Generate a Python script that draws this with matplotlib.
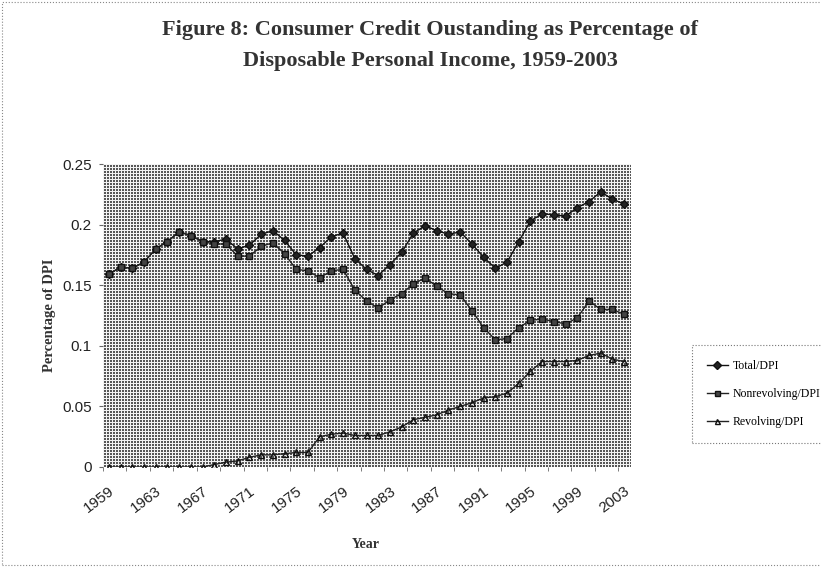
"""Consumer credit outstanding as a share of disposable personal income, 1959-2003."""
import matplotlib
matplotlib.use("Agg")
import matplotlib.pyplot as plt
import numpy as np
from matplotlib.patches import Rectangle
from matplotlib.ticker import FixedLocator, FuncFormatter

SERIF = "Liberation Serif"
SANS = "Liberation Sans"

years = list(range(1959, 2004))

total_dpi = [
    0.159, 0.165, 0.164, 0.169, 0.180, 0.186, 0.194, 0.191, 0.186, 0.186,
    0.188, 0.180, 0.183, 0.192, 0.195, 0.187, 0.175, 0.174, 0.181, 0.190,
    0.193, 0.172, 0.163, 0.158, 0.167, 0.177, 0.193, 0.199, 0.195, 0.192,
    0.194, 0.184, 0.173, 0.164, 0.169, 0.186, 0.203, 0.209, 0.208, 0.207,
    0.214, 0.219, 0.227, 0.221, 0.217,
]
nonrevolving_dpi = [
    0.159, 0.165, 0.164, 0.169, 0.180, 0.186, 0.194, 0.191, 0.186, 0.184,
    0.184, 0.174, 0.174, 0.182, 0.185, 0.176, 0.163, 0.162, 0.156, 0.162,
    0.163, 0.146, 0.137, 0.131, 0.138, 0.143, 0.151, 0.156, 0.149, 0.143,
    0.142, 0.129, 0.115, 0.105, 0.106, 0.115, 0.121, 0.122, 0.120, 0.118,
    0.123, 0.137, 0.130, 0.130, 0.126,
]
revolving_dpi = [
    0.000, 0.000, 0.000, 0.000, 0.000, 0.000, 0.000, 0.000, 0.000, 0.002,
    0.004, 0.005, 0.008, 0.010, 0.010, 0.011, 0.012, 0.012, 0.025, 0.027,
    0.028, 0.026, 0.026, 0.026, 0.029, 0.033, 0.039, 0.041, 0.043, 0.047,
    0.050, 0.053, 0.057, 0.058, 0.061, 0.069, 0.079, 0.087, 0.087, 0.087,
    0.088, 0.092, 0.094, 0.089, 0.087,
]
y_ticks = [0, 0.05, 0.1, 0.15, 0.2, 0.25]

W_PX, H_PX = 821, 569
fig = plt.figure(figsize=(W_PX / 100, H_PX / 100), dpi=100)
left, right, top, bottom = 103, 630, 164, 467
ax = fig.add_axes([left / W_PX, 1 - bottom / H_PX, (right - left) / W_PX, (bottom - top) / H_PX])

# Excel-style pattern fill for the plot area
h, w = bottom - top, right - left
rr, cc = np.mgrid[0:h, 0:w]
texture = np.where((rr % 3 == 0) | (cc % 3 == 0), 0.95, 0.34)
ax.imshow(texture, cmap="gray", vmin=0, vmax=1, extent=(0, 1, 0, 1),
          transform=ax.transAxes, aspect="auto", interpolation="nearest", zorder=0)

x = np.arange(len(years))
l1, = ax.plot(x, total_dpi, color="#111111", lw=1.0, marker="D", ms=4,
              mfc="#222222", mec="#111111", zorder=3, label="Total/DPI")
l2, = ax.plot(x, nonrevolving_dpi, color="#222222", lw=1.0, marker="s", ms=4,
              mfc="#444444", mec="#111111", zorder=3, label="Nonrevolving/DPI")
l3, = ax.plot(x, revolving_dpi, color="#222222", lw=1.0, marker="^", ms=4,
              mfc="none", mec="#111111", zorder=3, label="Revolving/DPI")

ax.set_xlim(-0.5, len(years) - 0.5)
ax.set_ylim(0, 0.25)
for s in ax.spines.values():
    s.set_visible(False)

ax.yaxis.set_major_locator(FixedLocator(y_ticks))
ax.yaxis.set_major_formatter(FuncFormatter(lambda v, _: f"{v:g}"))
ax.tick_params(axis="y", direction="out", length=3, color="#666666", pad=5,
               labelsize=11, labelcolor="#222222")

label_idx = list(range(0, len(years), 4))
ax.xaxis.set_major_locator(FixedLocator(label_idx))
ax.set_xticklabels([str(years[i]) for i in label_idx])
ax.xaxis.set_minor_locator(FixedLocator([k - 0.5 for k in range(0, len(years), 2)]))
ax.tick_params(axis="x", which="major", length=0, pad=12, labelsize=11, labelcolor="#222222")
ax.tick_params(axis="x", which="minor", direction="out", length=3, color="#666666")
for t in ax.get_xticklabels():
    t.set_rotation(37)
    t.set_ha("right")
    t.set_va("top")
    t.set_rotation_mode("anchor")
for t in ax.get_xticklabels() + ax.get_yticklabels():
    t.set_family(SANS)

fig.text(430 / W_PX, 1 - 20 / H_PX,
         "Figure 8: Consumer Credit Oustanding as Percentage of\n"
         "Disposable Personal Income, 1959-2003",
         ha="center", va="top", fontsize=16, fontweight="bold", family=SERIF,
         color="#333333", linespacing=1.75)
fig.text(366 / W_PX, 1 - 545 / H_PX, "Year", ha="center", va="center",
         fontsize=10, fontweight="bold", family=SERIF, color="#333333")
fig.text(50 / W_PX, 1 - 315 / H_PX, "Percentage of DPI", ha="center", va="center",
         rotation=90, fontsize=10.5, fontweight="bold", family=SERIF, color="#333333")

leg = fig.legend(handles=[l1, l2, l3], loc="upper left",
                 bbox_to_anchor=(692 / W_PX, 1 - 345 / H_PX), bbox_transform=fig.transFigure,
                 prop={"family": SERIF, "size": 8.5}, frameon=True, fancybox=False,
                 framealpha=1, borderaxespad=0, handlelength=1.8, handletextpad=0.4,
                 labelspacing=1.38, borderpad=1.25, markerscale=0.9)
leg.get_frame().set_edgecolor("#777777")
leg.get_frame().set_linestyle(":")
leg.get_frame().set_linewidth(0.8)

fig.add_artist(Rectangle((2 / W_PX, 4 / H_PX), 1.2, (H_PX - 6) / H_PX,
                         transform=fig.transFigure, fill=False, ec="#888888",
                         ls=":", lw=0.8))

fig.savefig("out.png", dpi=100)
